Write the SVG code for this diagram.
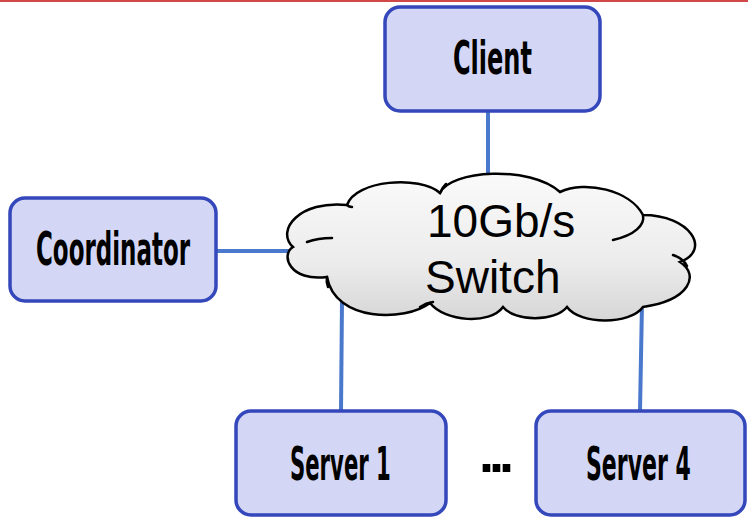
<svg xmlns="http://www.w3.org/2000/svg" width="748" height="518" viewBox="0 0 748 518">
<defs>
<linearGradient id="cg" x1="0" y1="0" x2="0" y2="1">
<stop offset="0" stop-color="#fafafa"/>
<stop offset="0.6" stop-color="#ececec"/>
<stop offset="1" stop-color="#d6d6d6"/>
</linearGradient>
<style>
.box{fill:#d3d7f5;stroke:#3447bb;stroke-width:3.5}
.lbl{font-family:"DejaVu Sans Condensed","DejaVu Sans",sans-serif;font-weight:bold;font-size:46px;fill:#000}
.conn{stroke:#4a78cc;stroke-width:4;fill:none}
.cl{stroke:#000;stroke-width:2.5;fill:none;stroke-linecap:round}
.ct{font-family:"Liberation Sans",Arial,sans-serif;font-size:46px;fill:#000}
.dots{font-family:"Liberation Sans",Arial,sans-serif;font-weight:bold;font-size:54px;letter-spacing:-5px;fill:#000}
</style>
</defs>
<rect x="0" y="0" width="748" height="518" fill="#fff"/>
<line x1="0" y1="1" x2="748" y2="1" stroke="#d04848" stroke-width="2"/>
<g id="connectors">
<line class="conn" x1="488" y1="111" x2="488" y2="178"/>
<line class="conn" x1="216" y1="251" x2="292" y2="251"/>
<line class="conn" x1="342" y1="300" x2="341" y2="411"/>
<line class="conn" x1="642" y1="303" x2="640" y2="411"/>
</g>
<g id="switch">
<path d="M 440,193 C 450,170 530,165 560,192 C 585,180 630,190 643,215 C 690,215 712,250 680,262 C 700,275 690,300 643,307 C 630,325 580,325 567,307 C 555,322 515,322 503,307 C 490,325 445,322 430,303 C 405,322 335,322 327,277 C 290,282 280,255 293,247 C 275,230 300,200 347,205 C 355,180 420,175 440,193 Z" fill="url(#cg)" stroke="#000" stroke-width="2.5"/>
<path class="cl" d="M 332,238 Q 318,238 307,242"/>
<path class="cl" d="M 440,193 Q 442,188 446,184"/>
<path class="cl" d="M 613,240 C 635,235 645,225 643,215"/>
<path class="cl" d="M 673,255 Q 683,258 687,266"/>
<path class="cl" d="M 433,302 Q 426,303 420,307"/>
<path class="cl" d="M 327,277 Q 326,282 328,287"/>
<path class="cl" d="M 347,205 Q 349,207 352,207"/>
<text class="ct" x="427" y="237">10Gb/s</text>
<text class="ct" x="425" y="293">Switch</text>
</g>
<g id="client">
<rect class="box" x="385" y="7" width="215" height="104" rx="15"/>
<text class="lbl" transform="translate(453,74) scale(0.56,1)" textLength="141" lengthAdjust="spacingAndGlyphs">Client</text>
</g>
<g id="coordinator">
<rect class="box" x="10" y="198" width="206" height="103" rx="15"/>
<text class="lbl" transform="translate(36,265) scale(0.56,1)" textLength="275" lengthAdjust="spacingAndGlyphs">Coordinator</text>
</g>
<g id="server1">
<rect class="box" x="236" y="411" width="210" height="104" rx="15"/>
<text class="lbl" transform="translate(290,480) scale(0.56,1)" textLength="180" lengthAdjust="spacingAndGlyphs">Server 1</text>
</g>
<g id="ellipsis">
<text class="dots" x="479" y="472">...</text>
</g>
<g id="server4">
<rect class="box" x="536" y="411" width="209" height="104" rx="15"/>
<text class="lbl" transform="translate(586,480) scale(0.56,1)" textLength="187" lengthAdjust="spacingAndGlyphs">Server 4</text>
</g>
</svg>
